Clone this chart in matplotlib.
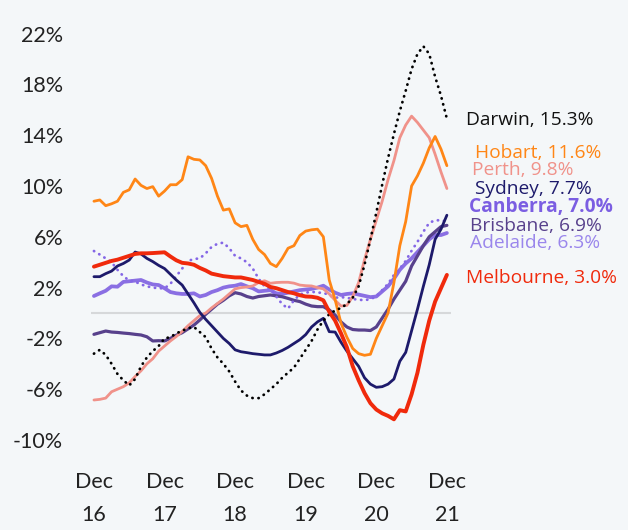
import numpy as np
import matplotlib
matplotlib.use("Agg")
import matplotlib.pyplot as plt

# annual change in rents by city, monthly Dec 2016 - Dec 2021
months = np.arange(61)
tick_months = [0, 12, 24, 36, 48, 60]
tick_labels = ["Dec\n16", "Dec\n17", "Dec\n18", "Dec\n19", "Dec\n20", "Dec\n21"]
y_ticks = [-10, -6, -2, 2, 6, 10, 14, 18, 22]

darwin = [-3.2, -2.9, -3.3, -4.0, -4.8, -5.3, -5.7, -5.2, -4.2, -3.5, -3.0, -2.6,
          -2.0, -1.9, -1.6, -1.4, -1.2, -1.1, -1.5, -1.9, -2.8, -3.5, -4.0, -4.6,
          -5.4, -6.1, -6.5, -6.7, -6.7, -6.4, -6.0, -5.6, -5.1, -4.7, -4.3, -3.6,
          -2.9, -2.2, -1.3, -0.6, -0.1, 0.2, 0.4, 0.7, 1.2, 2.1, 3.8, 5.8,
          7.9, 10.1, 12.2, 14.1, 15.9, 17.5, 19.2, 20.4, 21.0, 20.4, 18.6, 17.1, 15.3]
hobart = [8.8, 8.9, 8.45, 8.6, 8.8, 9.5, 9.7, 10.55, 10.05, 9.8, 9.95, 9.2,
          9.6, 10.1, 10.1, 10.5, 12.3, 12.1, 12.05, 11.6, 10.6, 9.2, 8.1, 8.2,
          7.1, 6.8, 6.9, 5.8, 5.0, 4.6, 3.9, 3.65, 4.3, 5.1, 5.3, 6.1,
          6.45, 6.55, 6.6, 6.0, 2.6, 1.05, -0.8, -1.9, -2.8, -3.2, -3.33, -3.25,
          -2.0, -1.0, 0.0, 2.4, 5.3, 7.2, 10.0, 10.8, 11.8, 13.0, 13.9, 12.9, 11.6]
perth = [-6.85, -6.8, -6.7, -6.2, -6.0, -5.8, -5.5, -5.0, -4.55, -4.0, -3.6, -3.0,
         -2.6, -2.2, -1.85, -1.45, -1.0, -0.6, -0.2, 0.0, 0.4, 0.75, 1.1, 1.5,
         1.9, 2.0, 2.05, 2.13, 2.4, 2.54, 2.34, 2.4, 2.42, 2.42, 2.35, 2.2,
         2.15, 2.13, 2.0, 1.9, 1.5, 1.0, 0.55, 0.6, 1.3, 2.4, 4.2, 5.8,
         7.3, 8.8, 10.5, 12.0, 13.8, 14.8, 15.5, 15.0, 14.4, 13.8, 12.5, 11.1, 9.8]
sydney = [2.86, 2.86, 3.1, 3.3, 3.7, 3.9, 4.17, 4.8, 4.65, 4.3, 4.05, 3.75,
          3.5, 3.05, 2.6, 2.2, 1.5, 0.8, 0.05, -0.5, -1.0, -1.5, -2.0, -2.4,
          -2.9, -3.05, -3.12, -3.2, -3.25, -3.3, -3.3, -3.15, -2.95, -2.7, -2.4, -2.1,
          -1.7, -1.1, -0.7, -0.42, -1.47, -1.5, -2.3, -3.0, -3.6, -4.2, -5.1, -5.6,
          -5.85, -5.8, -5.6, -5.2, -3.8, -3.1, -1.4, 0.3, 2.1, 3.8, 5.8, 6.6, 7.7]
canberra = [4.88, 4.6, 4.3, 4.0, 3.4, 2.9, 2.55, 2.47, 2.25, 2.1, 2.0, 1.95,
            1.94, 2.3, 2.9, 3.5, 4.1, 4.25, 4.3, 4.7, 5.2, 5.45, 5.54, 5.1,
            4.5, 4.3, 4.0, 3.5, 2.7, 2.1, 1.9, 1.3, 0.7, 0.35, 1.0, 1.45,
            1.6, 1.68, 1.6, 1.6, 1.4, 1.2, 1.25, 1.2, 1.1, 1.05, 1.0, 1.1,
            1.3, 1.8, 2.3, 3.0, 3.5, 4.1, 4.9, 5.6, 6.4, 7.1, 7.3, 7.3, 7.2]
brisbane = [-1.68, -1.55, -1.42, -1.5, -1.53, -1.58, -1.62, -1.68, -1.73, -1.87, -2.2, -2.18,
            -2.2, -2.0, -1.75, -1.55, -1.25, -0.95, -0.55, -0.1, 0.3, 0.7, 1.0, 1.35,
            1.6, 1.5, 1.3, 1.18, 1.3, 1.36, 1.42, 1.35, 1.28, 1.15, 1.0, 0.9,
            0.7, 0.55, 0.5, 0.5, 0.24, -0.16, -0.7, -1.1, -1.3, -1.34, -1.34, -1.38,
            -1.1, -0.4, 0.3, 1.1, 1.8, 2.5, 3.7, 4.5, 5.3, 6.0, 6.4, 6.8, 6.9]
adelaide = [1.34, 1.55, 1.75, 2.1, 2.07, 2.45, 2.5, 2.55, 2.6, 2.4, 2.25, 2.2,
            1.95, 1.65, 1.55, 1.5, 1.5, 1.55, 1.3, 1.42, 1.65, 1.8, 2.0, 2.1,
            2.15, 2.28, 2.1, 1.95, 1.7, 1.75, 1.8, 1.55, 1.5, 1.6, 1.7, 1.8,
            1.85, 1.9, 2.0, 2.15, 1.85, 1.6, 1.42, 1.5, 1.55, 1.45, 1.35, 1.25,
            1.3, 1.7, 2.1, 2.7, 3.4, 3.9, 4.3, 4.8, 5.3, 5.8, 6.14, 6.14, 6.3]
melbourne = [3.65, 3.8, 3.95, 4.1, 4.2, 4.35, 4.5, 4.65, 4.7, 4.7, 4.72, 4.75,
             4.78, 4.45, 4.15, 3.95, 3.9, 3.8, 3.55, 3.35, 3.1, 3.0, 2.9, 2.85,
             2.8, 2.8, 2.7, 2.6, 2.45, 2.3, 2.05, 1.95, 1.8, 1.65, 1.55, 1.4,
             1.3, 1.28, 1.2, 1.0, 0.1, -0.6, -1.6, -2.7, -4.2, -5.3, -6.3, -7.1,
             -7.6, -7.9, -8.1, -8.37, -7.65, -7.75, -6.4, -4.7, -2.5, -0.6, 0.9, 1.95, 3.0]

bg = "#f4f7f9"
dotted = (0, (0.1, 2.1))

fig = plt.figure(figsize=(6.28, 5.30), dpi=100, facecolor=bg)
ax = fig.add_axes([91 / 628, 75 / 530, 360 / 628, 435 / 530])
ax.set_facecolor(bg)

ax.axhline(0, color="#d6d8da", lw=1.5, zorder=1)

series = [
    ("Adelaide", adelaide, "#8a6fe3", 2.7, "-"),
    ("Brisbane", brisbane, "#58418c", 2.3, "-"),
    ("Canberra", canberra, "#8466e6", 2.0, dotted),
    ("Perth", perth, "#f0928a", 2.0, "-"),
    ("Hobart", hobart, "#ff8616", 2.0, "-"),
    ("Sydney", sydney, "#1d1a6b", 2.0, "-"),
    ("Darwin", darwin, "#000000", 2.0, dotted),
    ("Melbourne", melbourne, "#f02a0c", 2.8, "-"),
]
for name, vals, col, lw, ls in series:
    ax.plot(months, vals, color=col, lw=lw, ls=ls, solid_capstyle="round",
            dash_capstyle="round", zorder=3)

# end labels: text, colour, y, x, weight
labels = [
    ("Darwin, 15.3%", "#111111", 15.2, 63.3, "normal"),
    ("Hobart, 11.6%", "#ff8616", 12.6, 64.7, "normal"),
    ("Perth, 9.8%", "#f0928a", 11.25, 64.2, "normal"),
    ("Sydney, 7.7%", "#1d1a6b", 9.75, 64.7, "normal"),
    ("Canberra, 7.0%", "#7b5ee2", 8.35, 63.8, "bold"),
    ("Brisbane, 6.9%", "#58418c", 6.85, 64.0, "normal"),
    ("Adelaide, 6.3%", "#9a86ec", 5.5, 64.0, "normal"),
    ("Melbourne, 3.0%", "#f02a0c", 2.75, 63.3, "normal"),
]
for txt, col, ly, lx, wt in labels:
    ax.text(lx, ly, txt, color=col, fontsize=13.8, fontweight=wt,
            family="Open Sans", va="center", ha="left", clip_on=False)

ax.set_xlim(-0.5, 60.7)
ax.set_ylim(-11.18, 23.07)
ax.set_xticks(tick_months)
ax.set_xticklabels(tick_labels, fontsize=15.5, family="Lato", linespacing=1.85)
ax.set_yticks(y_ticks)
ax.set_yticklabels([f"{v}%" for v in y_ticks], fontsize=15.5, family="Lato")
ax.tick_params(length=0, colors="#222222")
ax.tick_params(axis="x", pad=12)
ax.tick_params(axis="y", pad=20)
for s in ax.spines.values():
    s.set_visible(False)

fig.savefig("out.png", dpi=100, facecolor=bg)
